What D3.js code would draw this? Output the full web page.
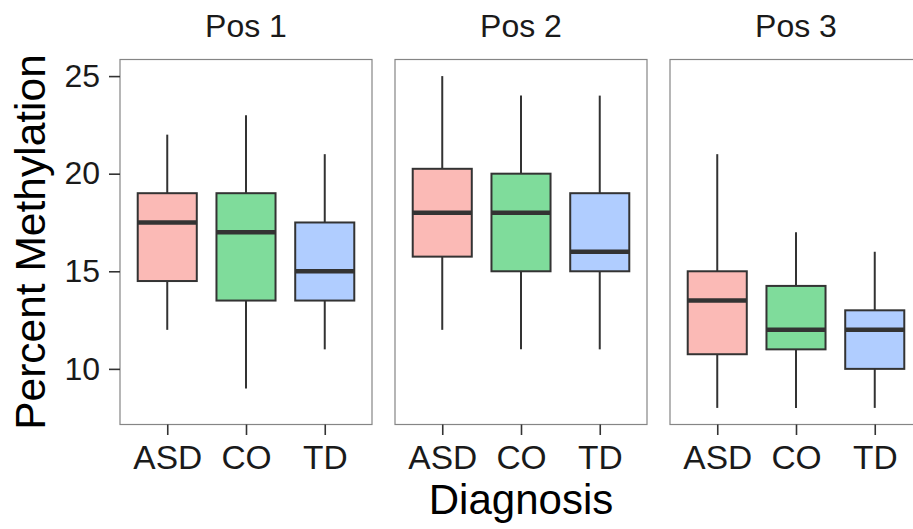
<!DOCTYPE html>
<html>
<head>
<meta charset="utf-8">
<script src="https://cdn.jsdelivr.net/npm/d3@7"></script>
<style>
  html, body { margin: 0; padding: 0; background: #fff; }
  svg { display: block; font-family: "Liberation Sans", Arial, sans-serif; }
</style>
</head>
<body>
<div id="chart"></div>
<script>
// ---- Data ----
const facets = ["Pos 1", "Pos 2", "Pos 3"];
const diagnoses = ["ASD", "CO", "TD"];
const yTicks = [10, 15, 20, 25];
// per facet, per diagnosis: [lowerWhisker, Q1, median, Q3, upperWhisker]
const pos1 = [[12, 14.5, 17.5, 19, 22], [9, 13.5, 17, 19, 23], [11, 13.5, 15, 17.5, 21]];
const pos2 = [[12, 15.75, 18, 20.25, 25], [11, 15, 18, 20, 24], [11, 15, 16, 19, 24]];
const pos3 = [[8, 10.75, 13.5, 15, 21], [8, 11, 12, 14.25, 17], [8, 10, 12, 13, 16]];
const fillColors = ["#FBBAB6", "#7FDC9B", "#B0CDFF"];

const facetData = [pos1, pos2, pos3];

// ---- Layout ----
const W = 913, H = 529;
const panelTop = 59.5, panelBottom = 424.5;
const panelLefts = [120, 395, 670];
const panelW = 252;

const svg = d3.select("#chart").append("svg")
  .attr("width", W).attr("height", H);

const y = d3.scaleLinear().domain([7.15, 25.85]).range([panelBottom, panelTop]);

facets.forEach((fname, fi) => {
  const left = panelLefts[fi];
  // discrete expansion 0.6 each side -> positions at (i+0.6)/3.2 of width
  const xPos = d => left + (diagnoses.indexOf(d) + 0.6) / 3.2 * panelW;
  const unit = panelW / 3.2;
  const boxW = 0.75 * unit;

  const g = svg.append("g");

  g.append("rect")
    .attr("x", left).attr("y", panelTop)
    .attr("width", panelW).attr("height", panelBottom - panelTop)
    .attr("fill", "none").attr("stroke", "#858585").attr("stroke-width", 1.2);

  svg.append("text")
    .attr("x", left + panelW / 2).attr("y", 37)
    .attr("text-anchor", "middle")
    .attr("font-size", 32).attr("fill", "#1a1a1a")
    .text(fname);

  const data = facetData[fi];
  data.forEach((s, di) => {
    const cx = xPos(diagnoses[di]);
    const [lo, q1, med, q3, hi] = s;
    g.append("line").attr("x1", cx).attr("x2", cx).attr("y1", y(hi)).attr("y2", y(q3))
      .attr("stroke", "#333").attr("stroke-width", 2);
    g.append("line").attr("x1", cx).attr("x2", cx).attr("y1", y(q1)).attr("y2", y(lo))
      .attr("stroke", "#333").attr("stroke-width", 2);
    g.append("rect")
      .attr("x", cx - boxW / 2).attr("y", y(q3))
      .attr("width", boxW).attr("height", y(q1) - y(q3))
      .attr("fill", fillColors[di]).attr("stroke", "#333").attr("stroke-width", 2);
    g.append("line").attr("x1", cx - boxW / 2).attr("x2", cx + boxW / 2)
      .attr("y1", y(med)).attr("y2", y(med))
      .attr("stroke", "#333").attr("stroke-width", 4.5);
  });

  const xs = d3.scaleOrdinal().domain(diagnoses).range(diagnoses.map(xPos));
  const xAxis = d3.axisBottom(xs).tickSize(10.5).tickPadding(10).tickSizeOuter(0);
  const xg = svg.append("g").attr("transform", `translate(0,${panelBottom})`).call(xAxis);
  xg.select(".domain").remove();
  xg.selectAll(".tick line").attr("stroke", "#333").attr("stroke-width", 1.6);
  xg.selectAll(".tick text").attr("font-size", 33.5).attr("fill", "#1a1a1a")
    .attr("font-family", "Liberation Sans, Arial, sans-serif");
});

const yAxis = d3.axisLeft(y).tickValues(yTicks).tickSize(11).tickPadding(9);
const yg = svg.append("g").attr("transform", `translate(${panelLefts[0]},0)`).call(yAxis);
yg.select(".domain").remove();
yg.selectAll(".tick line").attr("stroke", "#333").attr("stroke-width", 1.6);
yg.selectAll(".tick text").attr("font-size", 32).attr("fill", "#1a1a1a")
  .attr("font-family", "Liberation Sans, Arial, sans-serif");

svg.append("text")
  .attr("transform", `translate(45,${(panelTop + panelBottom) / 2}) rotate(-90)`)
  .attr("text-anchor", "middle").attr("font-size", 42.5).attr("fill", "#000")
  .text("Percent Methylation");

svg.append("text")
  .attr("x", (panelLefts[0] + W + 9) / 2).attr("y", 514)
  .attr("text-anchor", "middle").attr("font-size", 42).attr("fill", "#000")
  .text("Diagnosis");
</script>
</body>
</html>
